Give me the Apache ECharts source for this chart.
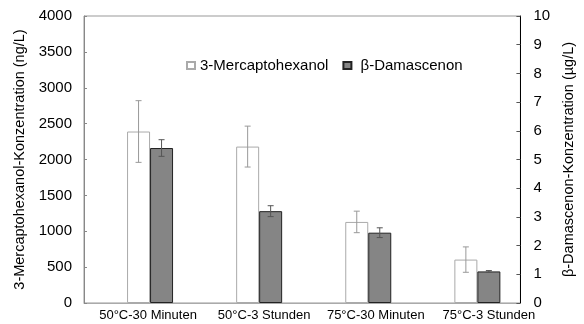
<!DOCTYPE html>
<html>
<head>
<meta charset="utf-8">
<script src="https://cdn.jsdelivr.net/npm/echarts@6/dist/echarts.min.js"></script>
<style>
  html, body { margin: 0; padding: 0; background: #fff; }
  #chart { width: 584px; height: 324px; }
</style>
</head>
<body>
<div id="chart"></div>
<script>
const categories = ['50°C-30 Minuten', '50°C-3 Stunden', '75°C-30 Minuten', '75°C-3 Stunden']
const mhValues = [2390, 2180, 1130, 605]
const mhErrors = [430, 285, 150, 177]
const damValues = [5.40, 3.20, 2.45, 1.10]
const damErrors = [0.29, 0.19, 0.17, 0.03]
const leftTicks = [0, 500, 1000, 1500, 2000, 2500, 3000, 3500, 4000]
const rightTicks = [0, 1, 2, 3, 4, 5, 6, 7, 8, 9, 10]

const font = 'Liberation Sans'
const barW = 23
// excel spreads the category labels a bit wider than the bars
const labelPad = [19, 33, 38, 46]

// error bars drawn on top of the bars, shifted by the bar offset in px
function errorSeries (values, errors, offset, color, yAxisIndex) {
  return {
    type: 'custom',
    yAxisIndex,
    z: 5,
    silent: true,
    data: values.map((v, i) => [i, v - errors[i], v + errors[i]]),
    encode: { x: 0, y: [1, 2] },
    renderItem: (params, api) => {
      const lo = api.coord([api.value(0), api.value(1)])
      const hi = api.coord([api.value(0), api.value(2)])
      const x = lo[0] + offset
      const style = { stroke: color, lineWidth: 1 }
      return {
        type: 'group',
        children: [
          { type: 'line', shape: { x1: x, y1: lo[1], x2: x, y2: hi[1] }, style },
          { type: 'line', shape: { x1: x - 3, y1: lo[1], x2: x + 3, y2: lo[1] }, style },
          { type: 'line', shape: { x1: x - 3, y1: hi[1], x2: x + 3, y2: hi[1] }, style }
        ]
      }
    }
  }
}

const labelRich = {}
labelPad.forEach((p, i) => {
  labelRich['c' + i] = { fontFamily: font, fontSize: 13, color: '#000', padding: [0, 0, 0, p] }
})

const option = {
  backgroundColor: '#fff',
  animation: false,
  textStyle: { fontFamily: font, color: '#000' },
  grid: {
    left: 84,
    right: 49,
    top: 16,
    bottom: 21,
    show: true,
    borderColor: '#999',
    borderWidth: 1
  },
  legend: {
    left: 181,
    top: 53,
    itemWidth: 8,
    itemHeight: 7,
    itemGap: 14,
    icon: 'rect',
    textStyle: { fontFamily: font, fontSize: 15, color: '#000' },
    formatter: name => name === 'β-Damascenon' ? ' ' + name : name,
    data: ['3-Mercaptohexanol', 'β-Damascenon']
  },
  xAxis: {
    type: 'category',
    data: categories,
    axisLine: { lineStyle: { color: '#aaa' } },
    axisTick: { show: false },
    axisLabel: {
      fontFamily: font,
      fontSize: 13,
      color: '#000',
      margin: 6,
      interval: 0,
      formatter: (value, index) => '{c' + index + '|' + value + '}',
      rich: labelRich
    }
  },
  yAxis: [{
    type: 'value',
    min: leftTicks[0],
    max: leftTicks[leftTicks.length - 1],
    interval: 500,
    name: '3-Mercaptohexanol-Konzentration (ng/L)',
    nameLocation: 'middle',
    nameRotate: 90,
    nameGap: 56,
    nameTextStyle: { fontFamily: font, fontSize: 14.5, color: '#000' },
    axisLine: { show: true, lineStyle: { color: '#888' } },
    axisTick: { show: true, inside: true, length: 3, lineStyle: { color: '#888' } },
    axisLabel: { fontFamily: font, fontSize: 15, color: '#000', margin: 12, formatter: v => String(v) },
    splitLine: { show: false }
  }, {
    type: 'value',
    position: 'right',
    min: rightTicks[0],
    max: rightTicks[rightTicks.length - 1],
    interval: 1,
    name: 'β-Damascenon-Konzentration (µg/L)',
    nameLocation: 'middle',
    nameRotate: 90,
    nameGap: 40,
    nameTextStyle: { fontFamily: font, fontSize: 14.5, color: '#000' },
    axisLine: { show: true, lineStyle: { color: '#000' } },
    axisTick: { show: true, inside: true, length: 4, lineStyle: { color: '#555' } },
    axisLabel: { fontFamily: font, fontSize: 15, color: '#000', margin: 13, formatter: v => String(v) },
    splitLine: { show: false }
  }],
  series: [{
    // empty slot so the bar pair sits right of the category centre
    name: 'spacer',
    type: 'bar',
    barWidth: barW,
    barGap: '0%',
    data: categories.map(() => '-'),
    itemStyle: { color: 'transparent' }
  }, {
    name: '3-Mercaptohexanol',
    type: 'bar',
    barWidth: barW,
    barGap: '0%',
    yAxisIndex: 0,
    data: mhValues,
    itemStyle: { color: '#fff', borderColor: '#aaa', borderWidth: 1 }
  }, {
    name: 'β-Damascenon',
    type: 'bar',
    barWidth: barW,
    barGap: '0%',
    yAxisIndex: 1,
    data: damValues,
    itemStyle: { color: '#858585', borderColor: '#222', borderWidth: 1 }
  },
  errorSeries(mhValues, mhErrors, 0, '#999', 0),
  errorSeries(damValues, damErrors, barW, '#555', 1)
  ]
}

const chart = echarts.init(document.getElementById('chart'))
chart.setOption(option)
</script>
</body>
</html>
